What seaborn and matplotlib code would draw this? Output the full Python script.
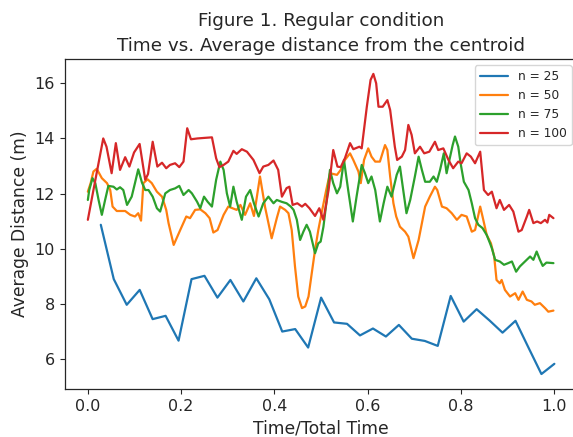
import matplotlib
matplotlib.use("Agg")
import matplotlib.pyplot as plt
import seaborn as sns
import pandas as pd
import numpy as np

# ---- data ----
labels = ["n = 25", "n = 50", "n = 75", "n = 100"]
colors = ["#1f77b4", "#ff7f0e", "#2ca02c", "#d62728"]

t25 = list(np.arange(1, 37) / 36)
d25 = [10.87, 8.90, 7.97, 8.51, 7.45, 7.57, 6.67, 8.90, 9.02, 8.23, 8.87, 8.09,
       8.93, 8.17, 7.00, 7.09, 6.42, 8.23, 7.33, 7.28, 6.86, 7.11, 6.82, 7.24,
       6.74, 6.66, 6.48, 8.29, 7.36, 7.81, 7.40, 6.96, 7.39, 6.42, 5.46, 5.83]

t50 = [0.000, 0.006, 0.012, 0.019, 0.030, 0.041, 0.048, 0.053, 0.062, 0.080, 0.091, 0.101,
       0.108, 0.114, 0.119, 0.128, 0.137, 0.148, 0.159, 0.168, 0.173, 0.184, 0.198, 0.211,
       0.219, 0.230, 0.241, 0.252, 0.261, 0.269, 0.278, 0.291, 0.301, 0.319, 0.327, 0.337,
       0.348, 0.356, 0.369, 0.380, 0.394, 0.405, 0.412, 0.423, 0.430, 0.437, 0.444, 0.451,
       0.459, 0.466, 0.473, 0.480, 0.487, 0.494, 0.501, 0.511, 0.519, 0.534, 0.542, 0.551,
       0.562, 0.569, 0.580, 0.585, 0.592, 0.601, 0.608, 0.616, 0.626, 0.637, 0.642, 0.648,
       0.655, 0.661, 0.669, 0.680, 0.687, 0.698, 0.709, 0.723, 0.733, 0.744, 0.749, 0.759,
       0.769, 0.780, 0.791, 0.801, 0.812, 0.823, 0.830, 0.841, 0.846, 0.855, 0.864, 0.871,
       0.876, 0.883, 0.887, 0.894, 0.905, 0.916, 0.923, 0.932, 0.941, 0.951, 0.958, 0.969,
       0.980, 0.987, 0.998]
d50 = [12.07, 12.38, 12.80, 12.90, 12.56, 12.38, 12.13, 11.53, 11.37, 11.37, 11.23, 11.17,
       11.29, 11.02, 12.38, 12.52, 12.38, 12.07, 11.89, 11.41, 10.93, 10.14, 10.68, 11.17,
       11.11, 11.41, 11.43, 11.29, 11.11, 10.59, 10.68, 11.23, 11.53, 11.41, 11.59, 11.23,
       11.65, 11.19, 12.62, 11.50, 10.38, 11.11, 11.53, 11.41, 11.29, 10.68, 9.36, 8.27,
       7.85, 7.91, 8.27, 9.12, 9.96, 10.68, 11.29, 12.13, 12.74, 12.68, 12.86, 13.22,
       13.46, 13.22, 12.80, 12.38, 13.22, 13.64, 13.34, 13.16, 13.16, 13.76, 13.58, 12.62,
       11.65, 11.17, 10.80, 10.62, 10.44, 9.66, 10.32, 11.53, 11.89, 12.25, 12.13, 11.53,
       11.47, 11.29, 11.05, 11.23, 11.17, 10.62, 10.68, 11.53, 11.17, 10.50, 10.20, 9.72,
       8.87, 8.75, 8.87, 8.51, 8.27, 8.39, 8.15, 8.45, 8.15, 8.09, 7.97, 8.03,
       7.85, 7.72, 7.76]

t75 = [0.000, 0.003, 0.010, 0.016, 0.023, 0.030, 0.037, 0.044, 0.055, 0.062, 0.069, 0.076,
       0.084, 0.094, 0.101, 0.108, 0.116, 0.123, 0.130, 0.139, 0.148, 0.155, 0.166, 0.176,
       0.187, 0.196, 0.205, 0.216, 0.223, 0.234, 0.241, 0.249, 0.257, 0.266, 0.275, 0.284,
       0.291, 0.298, 0.305, 0.312, 0.319, 0.330, 0.339, 0.348, 0.356, 0.366, 0.376, 0.387,
       0.398, 0.405, 0.416, 0.426, 0.435, 0.441, 0.448, 0.455, 0.462, 0.469, 0.476, 0.487,
       0.494, 0.499, 0.505, 0.512, 0.519, 0.526, 0.534, 0.541, 0.549, 0.558, 0.568, 0.576,
       0.587, 0.594, 0.601, 0.608, 0.616, 0.626, 0.634, 0.642, 0.651, 0.662, 0.669, 0.676,
       0.683, 0.691, 0.701, 0.709, 0.716, 0.723, 0.733, 0.741, 0.748, 0.755, 0.763, 0.769,
       0.775, 0.782, 0.787, 0.794, 0.799, 0.806, 0.816, 0.823, 0.830, 0.837, 0.846, 0.855,
       0.862, 0.866, 0.873, 0.883, 0.892, 0.901, 0.909, 0.918, 0.926, 0.937, 0.948, 0.955,
       0.962, 0.969, 0.975, 0.983, 0.998]
d75 = [11.77, 12.13, 12.56, 12.38, 11.77, 11.23, 11.77, 12.28, 12.25, 12.15, 12.23, 12.13,
       11.59, 11.89, 12.38, 12.88, 12.40, 12.13, 12.13, 11.89, 11.47, 11.35, 12.01, 12.13,
       12.19, 12.28, 11.95, 12.13, 12.01, 11.71, 11.47, 11.89, 11.70, 11.53, 12.50, 13.16,
       12.86, 12.01, 11.53, 12.25, 11.71, 11.05, 11.89, 12.13, 11.65, 11.17, 11.65, 11.89,
       11.65, 11.77, 11.70, 11.65, 11.53, 11.41, 11.05, 10.32, 10.62, 10.87, 10.62, 9.84,
       10.20, 10.26, 10.80, 11.77, 12.86, 12.38, 12.01, 12.25, 13.22, 12.13, 10.99, 11.89,
       13.04, 12.74, 12.38, 12.62, 12.13, 10.99, 11.65, 12.25, 11.89, 12.68, 12.98, 12.13,
       11.29, 11.77, 12.62, 13.34, 12.86, 12.43, 12.43, 12.62, 12.43, 12.86, 13.46, 12.74,
       13.22, 13.76, 14.07, 13.70, 13.10, 12.43, 12.13, 11.65, 11.11, 10.87, 10.75, 10.50,
       10.20, 10.02, 9.60, 9.54, 9.42, 9.48, 9.54, 9.17, 9.36, 9.54, 9.72, 9.60,
       9.90, 9.60, 9.38, 9.50, 9.48]

t100 = [0.000, 0.012, 0.033, 0.040, 0.051, 0.060, 0.069, 0.080, 0.089, 0.099, 0.111, 0.123,
        0.129, 0.139, 0.149, 0.159, 0.168, 0.176, 0.187, 0.196, 0.205, 0.213, 0.221, 0.235,
        0.250, 0.266, 0.275, 0.282, 0.291, 0.301, 0.312, 0.319, 0.330, 0.341, 0.355, 0.368,
        0.376, 0.387, 0.398, 0.408, 0.416, 0.426, 0.432, 0.439, 0.449, 0.459, 0.466, 0.475,
        0.487, 0.496, 0.505, 0.516, 0.526, 0.535, 0.542, 0.551, 0.562, 0.569, 0.582, 0.587,
        0.598, 0.606, 0.612, 0.618, 0.623, 0.632, 0.642, 0.648, 0.658, 0.663, 0.673, 0.680,
        0.687, 0.694, 0.701, 0.712, 0.721, 0.732, 0.744, 0.751, 0.762, 0.773, 0.783, 0.794,
        0.801, 0.812, 0.821, 0.830, 0.841, 0.849, 0.858, 0.866, 0.876, 0.883, 0.892, 0.903,
        0.912, 0.923, 0.930, 0.941, 0.946, 0.955, 0.963, 0.971, 0.980, 0.985, 0.989, 0.998]
d100 = [11.05, 12.13, 14.00, 13.70, 12.74, 13.83, 12.86, 13.32, 12.98, 13.49, 13.80, 12.50,
        12.71, 13.88, 12.98, 13.12, 12.92, 13.04, 13.10, 12.96, 13.16, 14.37, 13.97, 14.00,
        14.02, 14.04, 13.28, 12.96, 13.04, 13.16, 13.55, 13.44, 13.61, 13.52, 13.22, 12.74,
        12.98, 13.04, 13.20, 12.86, 11.89, 12.20, 12.25, 11.59, 11.65, 11.53, 11.63, 11.47,
        11.19, 11.47, 11.05, 12.13, 13.58, 12.98, 12.96, 13.28, 13.83, 13.61, 13.70, 13.64,
        15.15, 16.12, 16.34, 16.00, 15.15, 15.15, 15.39, 15.03, 13.70, 13.22, 13.34, 13.58,
        14.49, 14.13, 13.46, 13.70, 13.46, 13.52, 13.88, 13.58, 13.64, 13.22, 12.92, 13.16,
        13.10, 13.46, 13.34, 13.10, 13.52, 12.13, 11.95, 12.07, 11.47, 11.77, 11.41, 11.59,
        11.35, 10.62, 10.68, 11.17, 11.41, 10.93, 10.99, 10.93, 11.05, 10.95, 11.23, 11.11]

series_t = [t25, t50, t75, t100]
series_d = [d25, d50, d75, d100]

# ---- style ----
sns.set_style("ticks")
plt.rcParams.update({
    "font.family": ["DejaVu Sans"],
    "axes.edgecolor": "0.15",
    "axes.linewidth": 0.9,
    "text.color": "0.15",
    "axes.labelcolor": "0.15",
    "xtick.color": "0.15",
    "ytick.color": "0.15",
    "xtick.major.size": 3.5,
    "ytick.major.size": 3.5,
    "xtick.major.width": 0.8,
    "ytick.major.width": 0.8,
})

fig = plt.figure(figsize=(5.73, 4.37), dpi=100)
ax = fig.add_axes([0.1126, 0.110, 0.8956, 0.755])

frames = []
for lab, t, d in zip(labels, series_t, series_d):
    frames.append(pd.DataFrame({"t": t, "d": d, "series": lab}))
df = pd.concat(frames, ignore_index=True)

sns.lineplot(data=df, x="t", y="d", hue="series", hue_order=labels,
             palette=colors, estimator=None, sort=False, linewidth=1.6, ax=ax)

ax.set_xlim(-0.05, 1.05)
ax.set_ylim(4.92, 16.88)
ax.set_xticks([0.0, 0.2, 0.4, 0.6, 0.8, 1.0])
ax.set_yticks([6, 8, 10, 12, 14, 16])
ax.tick_params(labelsize=11.5)
ax.set_xlabel("Time/Total Time", fontsize=12.3)
ax.set_ylabel("Average Distance (m)", fontsize=12.3)
ax.set_title("Figure 1. Regular condition\nTime vs. Average distance from the centroid",
             fontsize=13.2, linespacing=1.45)

handles, lbls = ax.get_legend_handles_labels()
ax.legend(handles, lbls, loc="upper right", frameon=True, fontsize=8.8,
          framealpha=0.8, edgecolor="0.8", handlelength=2.3)

fig.savefig("out.png", dpi=100)
